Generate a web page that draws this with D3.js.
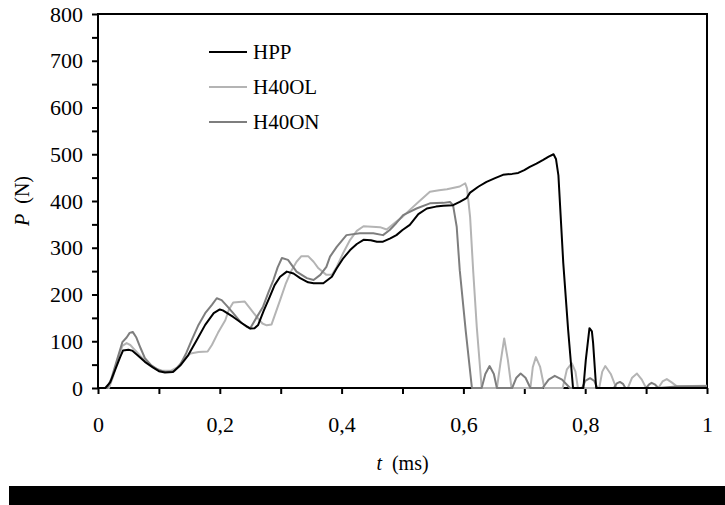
<!DOCTYPE html>
<html>
<head>
<meta charset="utf-8">
<script src="https://cdn.jsdelivr.net/npm/d3@7"></script>
<style>
  body { margin: 0; background: #fff; }
  svg { display: block; }
  text { font-family: "Liberation Serif", "Times New Roman", serif; fill: #000; }
</style>
</head>
<body>
<div id="chart"></div>
<script>
// series names and colours
var seriesNames = ['HPP', 'H40OL', 'H40ON'];
var seriesColors = ['#000000', '#b4b4b4', '#7e7e7e'];

// t (ms), P (N)
var hpp = [[0,0],[0.012,0],[0.02,12],[0.028,38],[0.036,65],[0.041,80],[0.05,82],[0.056,80],[0.065,70],[0.077,56],[0.09,44],[0.1,36],[0.11,33],[0.123,34],[0.135,48],[0.148,70],[0.162,102],[0.176,135],[0.19,160],[0.2,168],[0.205,166],[0.222,152],[0.237,138],[0.25,127],[0.257,128],[0.263,135],[0.272,165],[0.282,195],[0.29,220],[0.299,238],[0.31,249],[0.321,245],[0.332,235],[0.345,226],[0.354,224],[0.37,224],[0.384,238],[0.392,256],[0.403,278],[0.414,295],[0.425,308],[0.436,317],[0.448,316],[0.458,313],[0.468,313],[0.48,320],[0.49,327],[0.5,338],[0.512,349],[0.526,372],[0.54,384],[0.555,388],[0.567,390],[0.583,391],[0.594,398],[0.605,406],[0.611,418],[0.625,431],[0.638,441],[0.652,449],[0.665,456],[0.68,458],[0.69,460],[0.7,466],[0.709,473],[0.72,480],[0.731,488],[0.74,495],[0.748,500],[0.752,490],[0.756,455],[0.764,267],[0.772,124],[0.78,0],[0.797,0],[0.801,60],[0.807,128],[0.811,121],[0.813,96],[0.818,0],[1,0]];

var h40ol = [[0,0],[0.018,0],[0.025,25],[0.033,65],[0.04,90],[0.047,96],[0.053,92],[0.06,82],[0.07,68],[0.082,53],[0.095,42],[0.105,37],[0.12,37],[0.13,44],[0.143,64],[0.152,74],[0.165,77],[0.18,78],[0.187,92],[0.197,118],[0.209,145],[0.215,168],[0.222,183],[0.241,185],[0.25,170],[0.26,153],[0.27,138],[0.277,134],[0.285,136],[0.299,188],[0.308,222],[0.318,252],[0.326,270],[0.334,282],[0.345,282],[0.354,270],[0.362,256],[0.375,242],[0.384,242],[0.392,259],[0.403,290],[0.414,317],[0.425,336],[0.436,346],[0.45,345],[0.463,344],[0.474,339],[0.49,356],[0.5,366],[0.512,381],[0.528,400],[0.545,420],[0.56,423],[0.573,425],[0.594,431],[0.603,438],[0.606,427],[0.611,366],[0.616,252],[0.622,130],[0.63,0],[0.655,0],[0.661,55],[0.667,106],[0.673,60],[0.679,0],[0.71,0],[0.714,45],[0.719,66],[0.726,45],[0.733,0],[0.763,0],[0.77,40],[0.778,53],[0.784,35],[0.788,0],[0.823,0],[0.828,35],[0.833,47],[0.842,30],[0.851,0],[0.87,0],[0.877,22],[0.885,31],[0.893,18],[0.9,0],[0.92,0],[0.927,14],[0.934,19],[0.942,12],[0.95,4],[1,5]];

var h40on = [[0,0],[0.015,0],[0.022,20],[0.03,55],[0.04,98],[0.047,108],[0.052,118],[0.057,120],[0.063,108],[0.07,85],[0.077,64],[0.088,48],[0.1,38],[0.112,34],[0.125,36],[0.135,50],[0.145,75],[0.154,103],[0.165,135],[0.176,160],[0.187,178],[0.195,192],[0.203,188],[0.212,175],[0.222,160],[0.235,140],[0.244,131],[0.25,128],[0.26,150],[0.271,174],[0.28,205],[0.288,231],[0.295,258],[0.302,278],[0.312,274],[0.326,249],[0.343,235],[0.354,231],[0.365,242],[0.375,259],[0.381,281],[0.392,302],[0.408,327],[0.43,331],[0.452,331],[0.468,327],[0.479,338],[0.49,353],[0.501,370],[0.523,384],[0.545,395],[0.567,396],[0.578,398],[0.583,391],[0.589,345],[0.594,252],[0.604,120],[0.614,0],[0.63,0],[0.636,30],[0.643,47],[0.65,30],[0.655,0],[0.68,0],[0.687,22],[0.694,31],[0.702,22],[0.71,0],[0.73,0],[0.74,18],[0.75,26],[0.762,18],[0.775,0],[0.795,0],[0.8,15],[0.808,21],[0.815,15],[0.82,0],[0.847,0],[0.852,10],[0.857,13],[0.862,9],[0.866,0],[0.9,0],[0.905,8],[0.909,11],[0.915,7],[0.92,0],[0.95,3],[1,4]];

// ticks
var xTicks = [0, 0.1, 0.2, 0.3, 0.4, 0.5, 0.6, 0.7, 0.8, 0.9, 1];
var yTicks = [0, 50, 100, 150, 200, 250, 300, 350, 400, 450, 500, 550, 600, 650, 700, 750, 800];

var width = 725, height = 505,
    margin = { top: 14, right: 18, bottom: 117, left: 98 },
    w = width - margin.left - margin.right,
    h = height - margin.top - margin.bottom;

var svg = d3.select('#chart').append('svg')
    .attr('width', width)
    .attr('height', height);

var x = d3.scaleLinear().domain([0, 1]).range([0, w]),
    y = d3.scaleLinear().domain([0, 800]).range([h, 0]);

var chart = svg.append('g')
    .attr('transform', 'translate(' + margin.left + ',' + margin.top + ')');

// axes
var yAxis = d3.axisLeft(y)
    .tickValues(yTicks)
    .tickSize(6)
    .tickPadding(9)
    .tickFormat(function (d) { return d % 100 === 0 ? d : ''; });

var xAxis = d3.axisBottom(x)
    .tickValues(xTicks)
    .tickSize(6)
    .tickPadding(22)
    .tickFormat(function (d) {
        var r = Math.round(d * 10);
        return r % 2 === 0 ? String(d3.format('.1~f')(d)).replace('.', ',') : '';
    });

var gy = chart.append('g').call(yAxis);
var gx = chart.append('g').attr('transform', 'translate(0,' + h + ')').call(xAxis);

[gx, gy].forEach(function (g) {
    g.select('.domain').remove();
    g.selectAll('line').attr('stroke', '#000').attr('stroke-width', 2);
    g.selectAll('text').style('font-size', '22px').style('font-family', '"Liberation Serif", serif');
});

// frame
chart.append('rect')
    .attr('x', 0).attr('y', 0)
    .attr('width', w).attr('height', h)
    .attr('fill', 'none')
    .attr('stroke', '#000')
    .attr('stroke-width', 2);

// data lines
var line = d3.line()
    .x(function (d) { return x(d[0]); })
    .y(function (d) { return y(d[1]); });

var allSeries = [hpp, h40ol, h40on];
[1, 2, 0].forEach(function (i) {
    chart.append('path')
        .datum(allSeries[i])
        .attr('d', line)
        .attr('fill', 'none')
        .attr('stroke', seriesColors[i])
        .attr('stroke-width', 2)
        .attr('stroke-linejoin', 'round');
});

// legend
var legend = svg.append('g').attr('transform', 'translate(209,52)');
seriesNames.forEach(function (name, i) {
    var row = legend.append('g').attr('transform', 'translate(0,' + (i * 35) + ')');
    row.append('line')
        .attr('x1', 0).attr('x2', 38)
        .attr('y1', 0).attr('y2', 0)
        .attr('stroke', seriesColors[i])
        .attr('stroke-width', 2);
    row.append('text')
        .attr('x', 44).attr('y', 7)
        .style('font-size', '21px')
        .text(name);
});

// axis titles
var yt = svg.append('text')
    .attr('transform', 'translate(29,' + (margin.top + h / 2) + ') rotate(-90)')
    .attr('text-anchor', 'middle')
    .style('font-size', '20px');
yt.append('tspan').style('font-style', 'italic').text('P');
yt.append('tspan').text('\u00a0 (N)');

var xt = svg.append('text')
    .attr('x', margin.left + w / 2)
    .attr('y', 470)
    .attr('text-anchor', 'middle')
    .style('font-size', '20px');
xt.append('tspan').style('font-style', 'italic').text('t');
xt.append('tspan').text('\u00a0 (ms)');

// black band at the bottom
svg.append('rect')
    .attr('x', 9).attr('y', 486)
    .attr('width', width - 9).attr('height', height - 486)
    .attr('fill', '#000');
</script>
</body>
</html>
